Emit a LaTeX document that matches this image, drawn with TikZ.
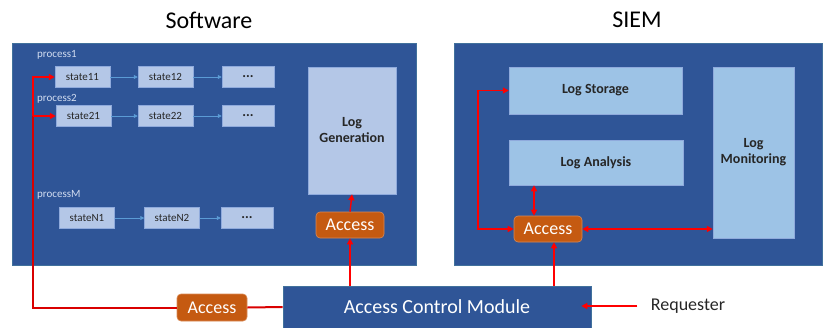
\documentclass[tikz,border=0pt]{standalone}
\usepackage{fontspec}
\setmainfont{Carlito}
\usetikzlibrary{arrows.meta}

\definecolor{darkblue}{HTML}{2F5597}
\definecolor{edgeblue}{HTML}{41719C}
\definecolor{paleblue}{HTML}{B4C7E7}
\definecolor{skyblue}{HTML}{9DC3E6}
\definecolor{stateedge}{HTML}{8FAADC}
\definecolor{flowblue}{HTML}{5B9BD5}
\definecolor{accorange}{HTML}{C55A11}
\definecolor{accedge}{HTML}{D98A56}
\definecolor{textgray}{HTML}{262626}

\newcommand{\fs}[1]{\fontsize{#1}{#1}\selectfont}

\begin{document}
\begin{tikzpicture}[x=1pt, y=-1pt,
  panel/.style={draw=edgeblue, fill=darkblue, line width=0.6pt},
  state/.style={draw=stateedge, fill=paleblue, line width=0.5pt,
    minimum width=55, minimum height=21, inner sep=0pt,
    text=textgray, font=\fs{11}},
  dots/.style={state, minimum width=52, font=\fs{14}\bfseries},
  proc/.style={anchor=west, inner sep=0pt, text=paleblue!60!white, font=\fs{11}},
  logbox/.style={draw=stateedge, fill=#1, line width=0.5pt, inner sep=0pt,
    text=textgray, font=\fs{14}\bfseries, align=center},
  access/.style={draw=accedge, fill=accorange, rounded corners=4pt,
    line width=0.6pt, text=white, font=\fs{18}, inner sep=0pt,
    minimum width=68, minimum height=26},
  flow/.style={draw=flowblue, line width=0.7pt,
    -{Triangle[length=4pt, width=4pt]}},
  ctrl/.style={draw=red, line width=1.4pt,
    -{Triangle[length=6pt, width=6pt]}},
  both/.style={ctrl, {Triangle[length=6pt, width=6pt]}-{Triangle[length=6pt, width=6pt]}},
  bus/.style={draw=red!85!black, line width=2pt}]

\useasboundingbox (0,0) rectangle (827,327);

% Panels
\node[panel, minimum width=404, minimum height=222] (sw) at (214,154) {};
\node[panel, minimum width=368, minimum height=222] (siem) at (638,154) {};
\node[font=\fs{24}] (swtitle) at (209,20) {Software};
\node[font=\fs{24}] (siemtitle) at (637,20) {SIEM};

% Processes and their states
\node[proc] (p1) at (37,55) {process1};
\node[state] (s11) at (82.5,77) {state11};
\node[state] (s12) at (165.5,77) {state12};
\node[dots] (d1) at (248,77) {...};

\node[proc] (p2) at (37,99) {process2};
\node[state] (s21) at (83.5,116) {state21};
\node[state] (s22) at (165.5,116) {state22};
\node[dots] (d2) at (248,116) {...};

\node[proc] (pM) at (37,195) {processM};
\node[state] (sN1) at (87,218) {stateN1};
\node[state] (sN2) at (172,218) {stateN2};
\node[dots] (d3) at (247,218) {...};

\node[logbox=paleblue, minimum width=88, minimum height=127] (loggen) at (352,130.5) {Log\\[2pt]Generation};
\node[access] (accS) at (350,225) {Access};

% SIEM blocks
\node[logbox=skyblue, minimum width=173, minimum height=47] (logs) at (595.5,90.5) {Log Storage};
\node[logbox=skyblue, minimum width=174, minimum height=45] (loga) at (596,162.5) {Log Analysis};
\node[logbox=skyblue, minimum width=81, minimum height=171] (logm) at (753.5,152.5) {Log\\[2pt]Monitoring};
\node[access] (accQ) at (548,229) {Access};

% Control module
\node[panel, minimum width=308, minimum height=42, text=white, font=\fs{20}] (acm) at (437,307) {Access Control Module};
\node[access, minimum width=70, minimum height=27] (accB) at (212,307.5) {Access};
\node[font=\fs{18}, text=textgray] (req) at (688,306) {Requester};

% State transitions
\draw[flow] (s11) -- (s12);
\draw[flow] (s12) -- (d1);
\draw[flow] (s21) -- (s22);
\draw[flow] (s22) -- (d2);
\draw[flow] (sN1) -- (sN2);
\draw[flow] (sN2) -- (d3);

% Access paths
\coordinate (corner) at (33,307.5);
\draw[bus] (acm.west) -- (accB.east);
\draw[bus] (accB.west) -- (corner) -- (corner |- s21.west);
\draw[ctrl] (corner |- s21.west) |- (s11.west);
\draw[ctrl] (corner |- s21.west) -- (s21.west);

\draw[ctrl] (accS.south |- acm.north) -- (accS.south);
\draw[ctrl] (accS.north) -- (loggen.south);

\draw[ctrl] ([xshift=6]accQ.south |- acm.north) -- ([xshift=6]accQ.south);
\draw[both] ([xshift=-14]accQ.north) -- ([xshift=-14]accQ.north |- loga.south);
\draw[both] (accQ.east) -- (accQ.east -| logm.west);
\coordinate (ret) at (478,90.5);
\draw[both] (accQ.west) -| (ret) -- (logs.west);

\draw[ctrl] ([xshift=-10]req.west) -- ([xshift=-10]req.west -| acm.east);
\end{tikzpicture}
\end{document}
